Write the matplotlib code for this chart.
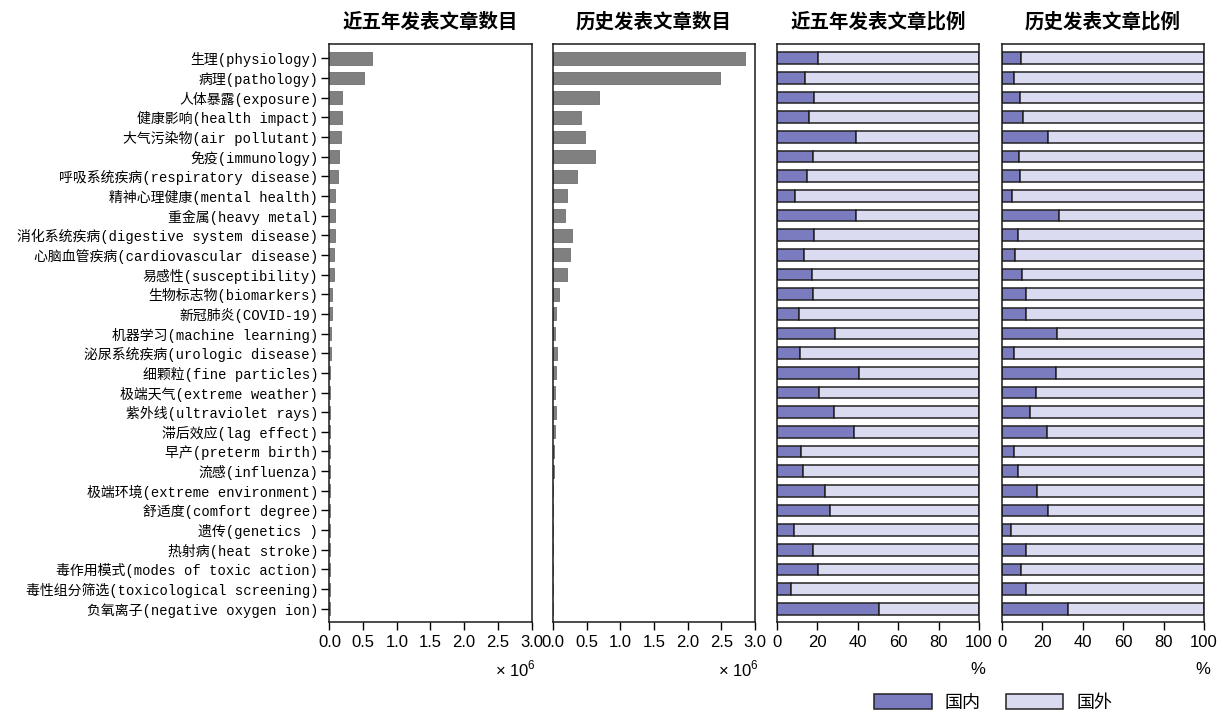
import matplotlib
matplotlib.use("Agg")
import matplotlib.pyplot as plt
from matplotlib.patches import Patch
import numpy as np

plt.rcParams['font.family'] = ['Liberation Sans', 'Noto Sans CJK SC']
plt.rcParams['mathtext.fontset'] = 'custom'
plt.rcParams['mathtext.rm'] = 'Liberation Sans'

# 关键词
labels = [
    "生理(physiology)", "病理(pathology)", "人体暴露(exposure)", "健康影响(health impact)",
    "大气污染物(air pollutant)", "免疫(immunology)", "呼吸系统疾病(respiratory disease)",
    "精神心理健康(mental health)", "重金属(heavy metal)", "消化系统疾病(digestive system disease)",
    "心脑血管疾病(cardiovascular disease)", "易感性(susceptibility)", "生物标志物(biomarkers)",
    "新冠肺炎(COVID-19)", "机器学习(machine learning)", "泌尿系统疾病(urologic disease)",
    "细颗粒(fine particles)", "极端天气(extreme weather)", "紫外线(ultraviolet rays)",
    "滞后效应(lag effect)", "早产(preterm birth)", "流感(influenza)",
    "极端环境(extreme environment)", "舒适度(comfort degree)", "遗传(genetics )",
    "热射病(heat stroke)", "毒作用模式(modes of toxic action)",
    "毒性组分筛选(toxicological screening)", "负氧离子(negative oxygen ion)",
]

# 文章数目 (x 10^6)
recent_counts = [0.634, 0.512, 0.185, 0.180, 0.164, 0.144, 0.129, 0.082, 0.077, 0.077,
                 0.067, 0.062, 0.041, 0.041, 0.021, 0.016, 0.009, 0.007, 0.007, 0.006,
                 0.005, 0.005, 0.004, 0.004, 0.003, 0.003, 0.003, 0.002, 0.002]
history_counts = [2.847, 2.485, 0.683, 0.410, 0.475, 0.619, 0.361, 0.213, 0.183, 0.282,
                  0.257, 0.208, 0.089, 0.040, 0.030, 0.064, 0.045, 0.025, 0.045, 0.025,
                  0.020, 0.020, 0.006, 0.005, 0.004, 0.004, 0.003, 0.003, 0.002]

# 国内占比 (%)
recent_domestic = [20.4, 14.1, 18.4, 15.9, 38.9, 17.7, 15.1, 8.7, 38.9, 18.2,
                   13.6, 17.2, 17.9, 11.0, 28.8, 11.3, 40.5, 20.8, 28.1, 37.9,
                   11.7, 13.0, 23.8, 26.4, 8.2, 17.9, 20.2, 6.9, 50.6]
history_domestic = [9.4, 5.9, 8.9, 10.2, 22.9, 8.2, 8.7, 4.8, 28.1, 8.1,
                    6.3, 9.7, 12.0, 11.7, 27.1, 5.9, 26.7, 16.7, 14.0, 22.1,
                    6.1, 7.9, 17.5, 22.8, 4.6, 11.7, 9.3, 11.9, 32.5]

titles = ["近五年发表文章数目", "历史发表文章数目", "近五年发表文章比例", "历史发表文章比例"]

gray = "#808080"
dark = "#7b7bbf"
light = "#dadaf0"

fig = plt.figure(figsize=(12.23, 7.14), dpi=100)
lefts = [0.2694, 0.4522, 0.6353, 0.8193]
axes = [fig.add_axes([l, 0.1289, 0.1652, 0.8088]) for l in lefts]

y = np.arange(len(labels))

def style_axis(ax, title):
    for s in ax.spines.values():
        s.set_linewidth(1.1)
        s.set_color("#1a1a1a")
    ax.set_ylim(len(labels) - 0.33, -0.7)
    ax.set_title(title, fontsize=14, fontweight='bold', family=['Noto Sans CJK SC'], pad=12)
    ax.tick_params(axis='x', direction='out', length=5.5, width=1.0, pad=4, labelsize=12)
    ax.tick_params(axis='y', direction='out', length=6, width=1.0, pad=2)

# 文章数目
for ax, vals, title in zip(axes[:2], [recent_counts, history_counts], titles[:2]):
    ax.barh(y, vals, height=0.65, color=gray, edgecolor="#6e6e6e", linewidth=0.6)
    ax.set_xlim(0, 3.0)
    ax.set_xticks(np.arange(0, 3.01, 0.5))
    ax.set_xticklabels([f"{v:.1f}" for v in np.arange(0, 3.01, 0.5)])
    style_axis(ax, title)
    ax.set_xlabel("× 10$^{6}$", fontsize=12)
    ax.xaxis.set_label_coords(0.92, -0.063)

# 国内 / 国外 比例
for ax, vals, title in zip(axes[2:], [recent_domestic, history_domestic], titles[2:]):
    dom = np.array(vals)
    ax.barh(y, dom, height=0.6, color=dark, edgecolor="#222222", linewidth=1.1)
    ax.barh(y, 100 - dom, left=dom, height=0.6, color=light, edgecolor="#222222", linewidth=1.1)
    ax.set_xlim(0, 100)
    ax.set_xticks([0, 20, 40, 60, 80, 100])
    style_axis(ax, title)
    ax.set_xlabel("%", fontsize=12)
    ax.xaxis.set_label_coords(0.995, -0.07)

axes[0].set_yticks(y)
axes[0].set_yticklabels(labels, fontsize=10, family=['Liberation Mono', 'Noto Sans CJK SC'])
for ax in axes[1:]:
    ax.set_yticks([])

handles = [Patch(facecolor=dark, edgecolor="#222222", linewidth=1.1, label="国内"),
           Patch(facecolor=light, edgecolor="#222222", linewidth=1.1, label="国外")]
fig.legend(handles=handles, loc='center', bbox_to_anchor=(993 / 1223, 1 - 703 / 714),
           ncol=2, frameon=False, handlelength=3.2, handleheight=0.9,
           handletextpad=0.7, columnspacing=1.4,
           prop={'family': 'Noto Sans CJK SC', 'size': 13})

fig.savefig("out.png", dpi=100)
